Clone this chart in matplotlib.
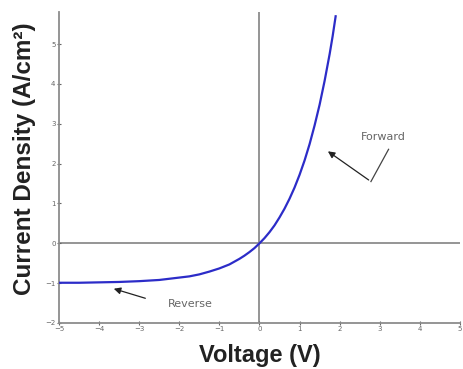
import matplotlib.pyplot as plt

# Diode J-V curve
voltage = [-5.0, -4.5, -4.0, -3.5, -3.0, -2.5, -2.0, -1.75, -1.5, -1.25, -1.0,
           -0.875, -0.75, -0.625, -0.5, -0.375, -0.25, -0.125, 0.0,
           0.125, 0.25, 0.375, 0.5, 0.625, 0.75, 0.875, 1.0, 1.125, 1.25,
           1.375, 1.5, 1.625, 1.75, 1.825, 1.9]
current = [-0.99, -0.99, -0.98, -0.97, -0.95, -0.92, -0.86, -0.83, -0.78, -0.71, -0.63,
           -0.58, -0.53, -0.46, -0.39, -0.31, -0.22, -0.12, 0.0,
           0.13, 0.28, 0.45, 0.65, 0.87, 1.12, 1.40, 1.72, 2.08, 2.49,
           2.96, 3.48, 4.08, 4.75, 5.20, 5.7]

xticks = [-5, -4, -3, -2, -1, 0, 1, 2, 3, 4, 5]
yticks = [-2, -1, 0, 1, 2, 3, 4, 5]

fig = plt.figure(figsize=(4.63, 3.69), dpi=100)
ax = fig.add_axes([0.1274, 0.1247, 0.866, 0.842])

ax.axhline(0, color='#8c8c8c', lw=1.3, zorder=1)
ax.axvline(0, color='#8c8c8c', lw=1.3, zorder=1)
ax.plot(voltage, current, color='#2c2cc8', lw=1.6, zorder=3)

ax.set_xlim(-5, 5)
ax.set_ylim(-2, 5.8)
ax.set_xticks(xticks)
ax.set_yticks(yticks)
ax.tick_params(labelsize=5, colors='#666666', length=3, width=0.8, direction='inout', pad=1)

for s in ['top', 'right']:
    ax.spines[s].set_visible(False)
for s in ['left', 'bottom']:
    ax.spines[s].set_color('#8c8c8c')
    ax.spines[s].set_linewidth(1.3)

lab = dict(family='Liberation Sans', fontweight='bold', color='#222222')
ax.set_xlabel('Voltage (V)', fontsize=17, labelpad=8, **lab)
ax.set_ylabel('Current Density (A/cm²)', fontsize=17.5, **lab)
ax.yaxis.set_label_coords(-0.058, 0.53)

# Forward label with bent leader
ax.text(3.1, 2.66, 'Forward', fontsize=8, color='#666666', ha='center', va='center')
ax.plot([3.22, 2.78], [2.36, 1.55], color='#444444', lw=0.9)
ax.annotate('', xy=(1.65, 2.35), xytext=(2.78, 1.55),
            arrowprops=dict(arrowstyle='-|>', color='#222222', lw=0.9, mutation_scale=10))

# Reverse label
ax.text(-1.73, -1.52, 'Reverse', fontsize=8, color='#666666', ha='center', va='center')
ax.annotate('', xy=(-3.7, -1.12), xytext=(-2.78, -1.4),
            arrowprops=dict(arrowstyle='-|>', color='#222222', lw=0.9, mutation_scale=10))

fig.savefig('out.png', dpi=100)
